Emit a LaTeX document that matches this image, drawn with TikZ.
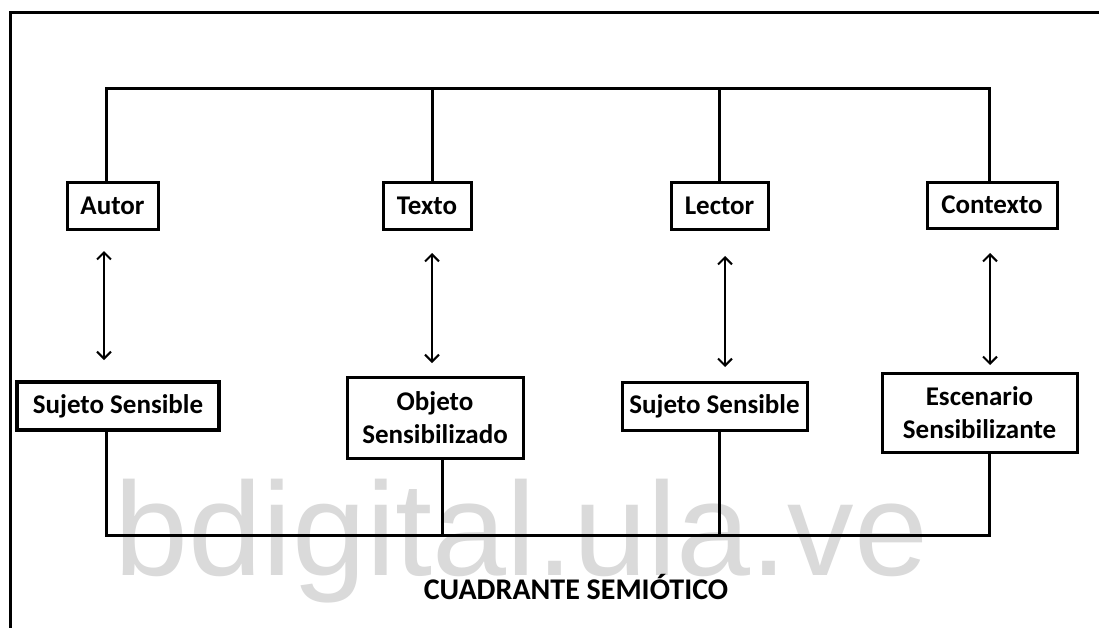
\documentclass[tikz,border=0pt]{standalone}
\usepackage{fontspec}
\setmainfont{Carlito}
\newfontfamily\wmfont{Liberation Sans}
\usetikzlibrary{arrows.meta}
\definecolor{wmgray}{RGB}{218,218,218}
\tikzset{
  box/.style={draw, line width=3pt, inner sep=0pt, align=center, font=\fontsize{27}{33}\selectfont\bfseries},
  bus/.style={line width=3pt},
  link/.style={line width=2pt, {Straight Barb[length=7pt,width=14pt,line width=2pt]}-{Straight Barb[length=7pt,width=14pt,line width=2pt]}}
}
\begin{document}
\begin{tikzpicture}[x=1pt,y=-1pt]
\useasboundingbox (0,0) rectangle (1099,627);
\fill[white] (0,0) rectangle (1099,627);
% watermark
\node[inner sep=0pt, anchor=base, text=wmgray, font=\wmfont\fontsize{133}{133}\selectfont] (wm) at (521.5,575) {bdigital.ula.ve};
% frame
\draw[bus, line cap=rect] (10,640) -- (10,12) -- (1110,12);
% top boxes
\node[box, minimum width=91pt, minimum height=47pt] (autor) at (112.5,205.5) {Autor};
\node[box, minimum width=88pt, minimum height=47pt] (texto) at (427,205.5) {Texto};
\node[box, minimum width=97pt, minimum height=47pt] (lector) at (719.5,205.5) {Lector};
\node[box, minimum width=130pt, minimum height=46pt] (contexto) at (992,205) {Contexto};
% bottom boxes
\node[box, line width=3.5pt, minimum width=202pt, minimum height=48pt] (suj1) at (118,406) {Sujeto Sensible};
\node[box, minimum width=176pt, minimum height=81pt] (obj) at (435,417.5) {Objeto\\Sensibilizado};
\node[box, minimum width=185pt, minimum height=48pt] (suj2) at (714.5,406) {Sujeto Sensible};
\node[box, minimum width=195pt, minimum height=79pt] (esc) at (979.5,412.5) {Escenario\\Sensibilizante};
% top bus
\coordinate (t1) at (106,88);
\coordinate (t2) at (432,88);
\coordinate (t3) at (719,88);
\coordinate (t4) at (989,88);
\draw[bus, line join=miter] (t1 |- autor.north) -- (t1) -- (t4) -- (t4 |- contexto.north);
\draw[bus] (t2) -- (t2 |- texto.north);
\draw[bus] (t3) -- (t3 |- lector.north);
% bottom bus
\coordinate (b1) at (106,535);
\coordinate (b2) at (442,535);
\coordinate (b3) at (719,535);
\coordinate (b4) at (989,535);
\draw[bus, line join=miter] (b1 |- suj1.south) -- (b1) -- (b4) -- (b4 |- esc.south);
\draw[bus] (b2) -- (b2 |- obj.south);
\draw[bus] (b3) -- (b3 |- suj2.south);
% arrows
\coordinate (a1t) at (104,251); \coordinate (a1b) at (104,360);
\coordinate (a2t) at (432,253); \coordinate (a2b) at (432,363);
\coordinate (a3t) at (725,256); \coordinate (a3b) at (725,367);
\coordinate (a4t) at (990,253); \coordinate (a4b) at (990,365);
\draw[link] (a1t) -- (a1b);
\draw[link] (a2t) -- (a2b);
\draw[link] (a3t) -- (a3b);
\draw[link] (a4t) -- (a4b);
% title
\node[inner sep=0pt, anchor=base, font=\fontsize{30}{34}\selectfont\bfseries] (title) at (576,599) {CUADRANTE SEMIÓTICO};
\end{tikzpicture}
\end{document}
